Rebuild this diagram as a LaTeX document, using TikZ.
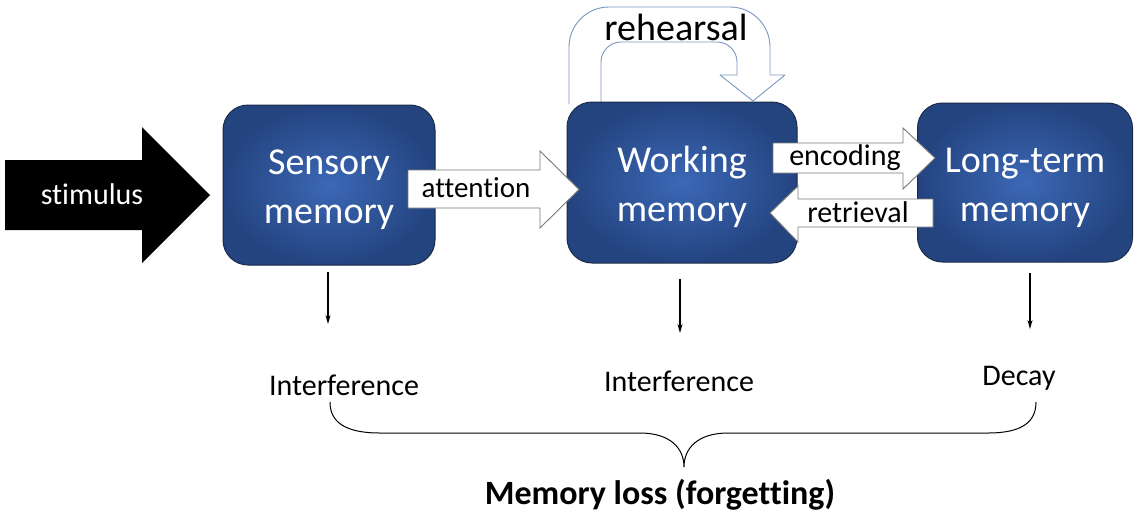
\documentclass[tikz,border=0pt]{standalone}
\usepackage{fontspec}
\setmainfont{Carlito}[Ligatures=NoCommon]
\usetikzlibrary{arrows.meta}
\definecolor{boxin}{RGB}{60,104,182}
\definecolor{boxout}{RGB}{36,68,128}
\definecolor{boxline}{RGB}{28,42,74}
\definecolor{loopline}{RGB}{122,152,192}
\definecolor{blockline}{RGB}{120,120,120}
\tikzset{
  mem/.style={shading=radial, inner color=boxin, outer color=boxout,
    draw=boxline, line width=1pt, rounded corners=25pt, text=white,
    align=center, font=\fontsize{38}{49}\selectfont, inner sep=0pt},
  block/.style={fill=white, draw=blockline, line width=0.9pt},
  lbl/.style={inner sep=0pt, font=\fontsize{30}{36}\selectfont},
  loss/.style={inner sep=0pt, font=\fontsize{30}{36}\selectfont},
  drop/.style={line width=1.1pt, -{Stealth[length=9pt,width=5pt]}},
  loop/.style={loopline, line width=0.9pt, line join=round},
}
\begin{document}
\begin{tikzpicture}[x=1pt,y=-1pt]
\useasboundingbox[fill=white] (0,0) rectangle (1135,515);

% rehearsal loop arrow (behind the working-memory box)
\coordinate (ro) at (770,75);
\coordinate (ri) at (737,75);
\draw[loop, rounded corners=40pt] (569,104) -- (569,7) -- (770,7) -- (ro);
\draw[loop] (ro) -- (785,75) -- (753,101) -- (720,75) -- (ri);
\draw[loop, rounded corners=20pt] (ri) -- (737,42) -- (601,42) -- (601,104);
\node[inner sep=0pt, font=\fontsize{38}{44}\selectfont] (reh) at (676,27) {rehearsal};

% stimulus arrow
\fill[black] (5,160) -- (142,160) -- (142,127) -- (210,195) -- (142,263) -- (142,230) -- (5,230) -- cycle;
\node[lbl, text=white] (stim) at (92,194) {stimulus};

% memory stores
\node[mem, minimum width=212pt, minimum height=160pt] (sens) at (329,185) {\strut Sensory\\memory};
\node[mem, minimum width=230pt, minimum height=161pt] (work) at (682,182.5) {\strut Working\\memory};
\node[mem, minimum width=215pt, minimum height=159pt] (ltm) at (1025,182.5) {\strut Long-term\\memory};

% block arrows between the stores
\draw[block] (408,170) -- (540,170) -- (540,151) -- (579,189.5) -- (540,228) -- (540,208) -- (408,208) -- cycle;
\node[lbl, font=\fontsize{29}{34}\selectfont] (att) at (476,188) {attention};
\draw[block] (773,143) -- (903,143) -- (903,128) -- (935,158) -- (903,189) -- (903,173) -- (773,173) -- cycle;
\node[lbl] (enc) at (845,158) {encoding};
\draw[block] (933,199) -- (798,199) -- (798,186) -- (770,213) -- (798,242) -- (798,227) -- (933,227) -- cycle;
\node[lbl] (ret) at (858,212) {retrieval};

% causes of forgetting
\coordinate (s1) at (328,272); \coordinate (s2) at (328,324);
\coordinate (w1) at (680,279); \coordinate (w2) at (680,333);
\coordinate (l1) at (1030,273); \coordinate (l2) at (1030,329);
\draw[drop] (s1) -- (s2);
\draw[drop] (w1) -- (w2);
\draw[drop] (l1) -- (l2);
\node[loss] (i1) at (344,385) {Interference};
\node[loss] (i2) at (679,381) {Interference};
\node[loss] (dec) at (1019,378) {Decay};

% brace gathering the three causes
\coordinate (bl) at (330,402);
\coordinate (bt) at (684,467);
\coordinate (br) at (1036,402);
\draw[line width=1pt]
  (bl) .. controls (330,422) and (345,433) .. (380,433) -- (640,433)
  .. controls (670,433) and (684,448) .. (bt)
  .. controls (684,448) and (698,433) .. (728,433) -- (988,433)
  .. controls (1022,433) and (1036,422) .. (br);
\node[inner sep=0pt, font=\bfseries\fontsize{34}{40}\selectfont] (ml) at (660,495) {Memory loss (forgetting)};
\end{tikzpicture}
\end{document}
